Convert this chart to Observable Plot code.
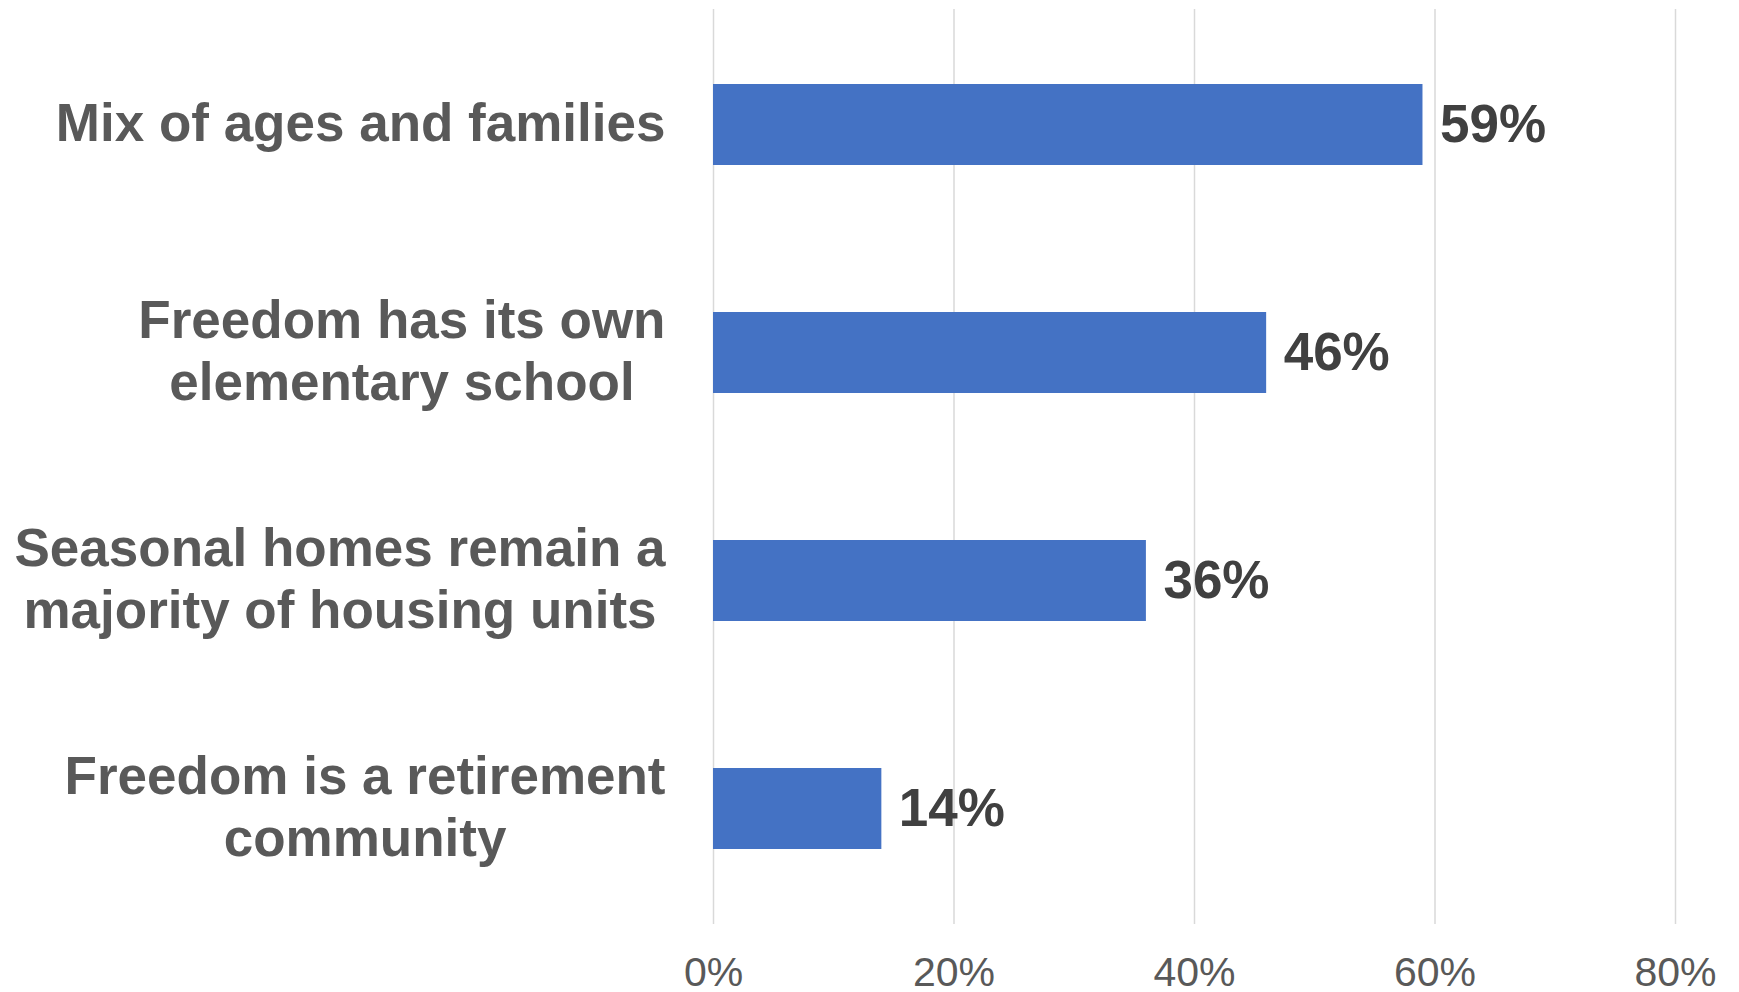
<!DOCTYPE html>
<html>
<head>
<meta charset="utf-8">
<script src="https://cdn.jsdelivr.net/npm/d3@7"></script>
<script src="https://cdn.jsdelivr.net/npm/@observablehq/plot@0.6"></script>
<style>
  html, body { margin: 0; padding: 0; background: #fff; }
  #chart svg { display: block; }
</style>
</head>
<body>
<div id="chart"></div>
<script>
const categories = [
  "Mix of ages and families",
  "Freedom has its own elementary school",
  "Seasonal homes remain a majority of housing units",
  "Freedom is a retirement community"
];
const categoryLines = [
  ["Mix of ages and families"],
  ["Freedom has its own", "elementary school"],
  ["Seasonal homes remain a", "majority of housing units"],
  ["Freedom is a retirement", "community"]
];
const values = [59, 46, 36, 14];
const xTicks = [0, 20, 40, 60, 80];

const data = categories.map((c, i) => ({category: c, value: values[i], lines: categoryLines[i]}));

const FONT = "'Liberation Sans', Arial, Helvetica, sans-serif";
const labelSize = 53;
const ctx = document.createElement("canvas").getContext("2d");
ctx.font = `bold ${labelSize}px ${FONT}`;
const maxWidth = lines => Math.max(...lines.map(l => ctx.measureText(l).width));

const labelMarks = data.map(d =>
  Plot.text([d], {
    x: () => 0,
    y: "category",
    text: r => r.lines.join("\n"),
    textAnchor: "middle",
    lineAnchor: "middle",
    lineHeight: 1.17,
    dx: -(48 + maxWidth(d.lines) / 2),
    dy: -4,
    fontSize: labelSize,
    fontWeight: "bold",
    fill: "#595959"
  })
);

const chart = Plot.plot({
  width: 1739,
  height: 992,
  marginLeft: 713,
  marginRight: 64,
  marginTop: 9,
  marginBottom: 68,
  style: {fontFamily: FONT, background: "#fff", overflow: "visible"},
  x: {domain: [0, 80], ticks: xTicks, tickFormat: d => d + "%"},
  y: {domain: categories, paddingInner: 0.645, paddingOuter: 0.3225, axis: null},
  marks: [
    Plot.gridX(xTicks, {stroke: "#d9d9d9", strokeOpacity: 1, strokeWidth: 1.5}),
    Plot.axisX(xTicks, {tickSize: 0, tickPadding: 32, fontSize: 41, fill: "#595959", tickFormat: d => d + "%", label: null}),
    Plot.barX(data, {x: "value", y: "category", fill: "#4472c4"}),
    Plot.text(data, {x: "value", y: "category", text: d => d.value + "%", textAnchor: "start", dx: 17, fontSize: 53, fontWeight: "bold", fill: "#404040"}),
    ...labelMarks
  ]
});
document.getElementById("chart").appendChild(chart);
</script>
</body>
</html>
